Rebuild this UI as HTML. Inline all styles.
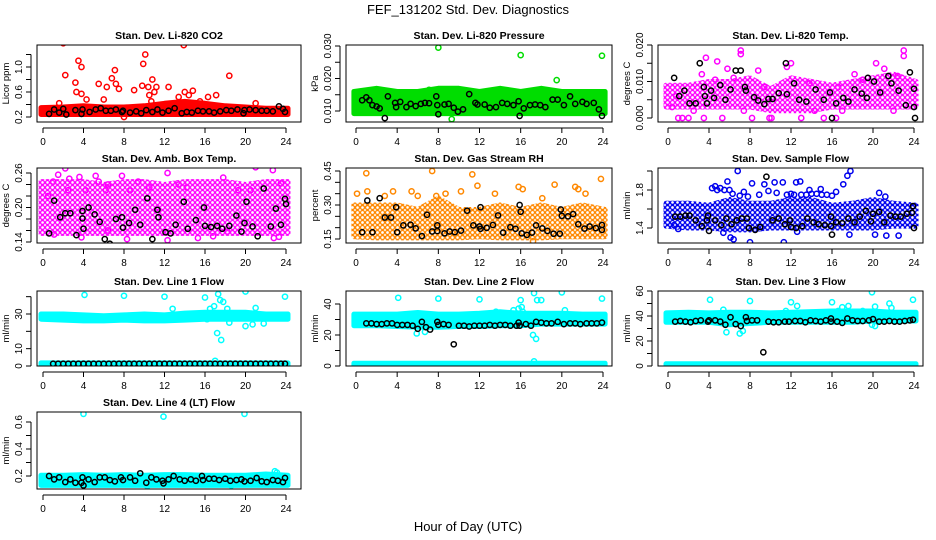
<!DOCTYPE html>
<html><head><meta charset="utf-8"><style>
html,body{margin:0;padding:0;background:#fff}
svg{display:block;font-family:"Liberation Sans",sans-serif}
</style></head><body>
<svg id="chart" width="936" height="540" viewBox="0 0 936 540" xmlns="http://www.w3.org/2000/svg">
<text x="468" y="14" text-anchor="middle" font-size="13">FEF_131202  Std. Dev. Diagnostics</text>
<text x="468" y="531" text-anchor="middle" font-size="13">Hour of Day (UTC)</text>
</svg>
<script>
const bandHours=[-0.2,2,4,6,8,10,12,14,16,18,20,22,24.2];
const xTickLabels=[0,4,8,12,16,20,24];

const p1Lo=[0.24,0.24,0.24,0.24,0.24,0.24,0.24,0.24,0.24,0.24,0.24,0.24,0.24];
const p1Hi=[0.35,0.36,0.38,0.36,0.36,0.38,0.42,0.45,0.42,0.38,0.36,0.34,0.34];
const p1Out=[[2,1.38],[3.5,1.1],[3.8,1.0],[2.2,0.87],[3.2,0.75],[7.1,0.95],[6.8,0.82],[7.2,0.73],[5.5,0.73],[6.3,0.68],[7.5,0.65],[3.3,0.6],[3.8,0.57],[6,0.48],[9,0.63],[9.8,0.7],[9.9,1.05],[10.1,1.2],[10.8,0.8],[10.4,0.68],[11.2,0.68],[12.4,0.68],[13.9,1.35],[14,0.6],[14.8,0.62],[16.3,0.52],[17.1,0.55],[18.4,0.86],[21,0.42],[1.6,0.42],[4.3,0.48],[10.5,0.55],[11,0.6],[13.4,0.52],[14.4,0.55],[15.5,0.45],[8,0.2],[10.7,0.45]];
const p1Black=[[0.6,0.25],[1.1,0.32],[1.6,0.27],[2.0,0.33],[2.3,0.24],[3.2,0.31],[3.8,0.25],[3.9,0.32],[4.6,0.28],[5.2,0.32],[5.7,0.34],[6.2,0.3],[6.7,0.3],[7.2,0.32],[7.8,0.28],[7.9,0.3],[8.6,0.27],[9.2,0.29],[9.7,0.26],[10.2,0.31],[10.8,0.28],[11.3,0.32],[11.8,0.27],[12.4,0.3],[13,0.34],[13.7,0.26],[14.2,0.28],[14.7,0.27],[15.3,0.3],[15.8,0.29],[16.4,0.29],[16.9,0.27],[17.5,0.29],[18.1,0.31],[18.6,0.3],[19.2,0.32],[19.8,0.26],[19.9,0.31],[20.4,0.32],[21,0.31],[21.6,0.3],[22.1,0.3],[22.7,0.29],[23.3,0.37],[23.7,0.33],[23.9,0.28]];

const p2Lo=[0.0092,0.0092,0.0092,0.0092,0.0092,0.0092,0.0092,0.0092,0.0092,0.0092,0.0092,0.0092,0.0092];
const p2Hi=[0.016,0.017,0.016,0.016,0.017,0.017,0.016,0.017,0.016,0.017,0.016,0.016,0.016];
const p2Out=[[0.1,0.0128],[4.1,0.0118],[5.6,0.0118],[6.4,0.0118],[7.1,0.0165],[7.4,0.0118],[8,0.0295],[8.1,0.0122],[11.5,0.013],[13.4,0.0124],[16,0.0272],[18.8,0.0152],[19.2,0.0142],[19.5,0.0195],[22.2,0.0055],[23.9,0.027],[9.3,0.0075],[14.5,0.0118],[22.5,0.0118]];
const p2Black=[[0.6,0.0133],[1.0,0.0142],[1.3,0.0133],[1.6,0.0118],[2.0,0.0114],[2.3,0.0108],[2.8,0.0078],[3.1,0.0145],[3.8,0.0125],[3.9,0.0112],[4.3,0.0128],[4.9,0.0112],[5.3,0.0122],[5.8,0.0115],[6.3,0.0122],[6.7,0.0125],[7.1,0.0124],[7.8,0.0145],[7.9,0.0118],[8.0,0.009],[8.6,0.012],[9.0,0.0122],[9.5,0.011],[9.9,0.0098],[10.4,0.0105],[11.0,0.0152],[11.6,0.0125],[11.8,0.012],[12.5,0.012],[13.0,0.011],[13.6,0.0112],[14.2,0.0125],[14.7,0.0122],[15.3,0.0118],[15.8,0.013],[15.9,0.0085],[16.3,0.0108],[16.9,0.0118],[17.4,0.012],[17.9,0.0118],[18.4,0.0112],[19.1,0.0135],[19.6,0.0135],[20.2,0.0118],[20.8,0.0145],[21.3,0.0122],[22.0,0.0128],[22.4,0.0122],[23.1,0.0125],[23.6,0.0105],[23.9,0.0085]];

const p3Lo=[0.003,0.003,0.003,0.003,0.003,0.002,0.002,0.002,0.003,0.003,0.003,0.003,0.003];
const p3Hi=[0.009,0.009,0.010,0.010,0.011,0.008,0.011,0.010,0.009,0.010,0.011,0.012,0.010];
const p3Out=[[1,0],[1.4,0],[2,0],[3.5,0],[5.3,0],[8.2,0],[9.9,0],[10.1,0],[13,0],[15.2,0],[16.4,0],[3.7,0.0165],[7.1,0.0185],[7.1,0.0175],[4.8,0.0155],[23,0.017],[23,0.0185],[5.8,0.0135],[12,0.015],[3.3,0.012],[6.4,0.011],[8.8,0.013],[11.6,0.014],[20.3,0.015],[21.1,0.0135],[18.2,0.012],[0.4,0.003],[2.5,0.002],[7.4,0.002],[14.3,0.002],[17,0.002],[22,0.002],[0.8,0.006],[4.6,0.0105],[9.4,0.0085],[13.8,0.0095],[16.6,0.0085],[19,0.0105],[22.4,0.0115]];
const p3Black=[[0.6,0.011],[1.1,0.006],[1.6,0.0075],[2.1,0.004],[2.7,0.004],[3.1,0.015],[3.5,0.0085],[3.6,0.006],[3.8,0.004],[4.2,0.0075],[4.5,0.0055],[5.1,0.009],[5.6,0.005],[6.1,0.0078],[6.6,0.013],[7.1,0.013],[7.5,0.0085],[7.6,0.0075],[8.4,0.0057],[8.8,0.0048],[9.4,0.0038],[9.8,0.0052],[10.2,0.0052],[10.8,0.0068],[11.5,0.015],[11.6,0.0065],[12.3,0.0095],[12.8,0.005],[13.5,0.0045],[14.4,0.0078],[15.2,0.005],[15.8,0.007],[16,0],[16.4,0.004],[17.1,0.0055],[17.6,0.0045],[18.2,0.0078],[18.9,0.0067],[19.4,0.0055],[19.5,0.011],[20.1,0.01],[20.7,0.007],[21.5,0.0115],[21.8,0.0095],[22.5,0.0075],[23.2,0.0035],[23.6,0.0125],[24,0.008],[24,0.003],[24.1,0]];

const p4Lo=[0.155,0.155,0.155,0.155,0.155,0.155,0.155,0.155,0.155,0.155,0.155,0.155,0.155];
const p4Hi=[0.245,0.245,0.245,0.24,0.245,0.245,0.24,0.245,0.245,0.245,0.24,0.245,0.245];
const p4Out=[[1,0.245],[1.5,0.257],[2.2,0.268],[2.6,0.25],[3.6,0.253],[5.2,0.255],[5.5,0.245],[6.4,0.24],[7.8,0.255],[9.4,0.245],[12.3,0.26],[13.4,0.24],[17.8,0.252],[21,0.27],[22.7,0.265],[23.5,0.242],[1.1,0.153],[3.8,0.148],[6.4,0.16],[8.3,0.145],[12.3,0.143],[15.3,0.147],[16.8,0.15],[18.2,0.158],[22.8,0.147],[23.3,0.149],[0.5,0.22],[2.5,0.23],[4.2,0.23],[10.5,0.235],[14.2,0.235],[19.3,0.23],[20.5,0.23],[8.6,0.23],[6.2,0.23]];
const p4Black=[[0.6,0.155],[1.1,0.212],[1.7,0.183],[2.2,0.19],[2.7,0.19],[3.3,0.152],[3.9,0.181],[3.9,0.194],[4.0,0.163],[4.5,0.2],[5.1,0.188],[5.6,0.175],[6.1,0.145],[6.6,0.137],[7.2,0.18],[7.8,0.183],[7.9,0.165],[8.5,0.173],[9.1,0.196],[9.6,0.17],[10.3,0.216],[10.8,0.145],[11.3,0.196],[11.4,0.183],[12.1,0.157],[12.6,0.155],[13.1,0.17],[13.9,0.21],[14.3,0.163],[15.1,0.178],[15.9,0.2],[16,0.168],[16.6,0.166],[17.2,0.168],[17.7,0.163],[18.4,0.168],[19.1,0.186],[19.6,0.158],[19.9,0.173],[20.1,0.21],[20.7,0.167],[21.2,0.15],[21.8,0.233],[22.5,0.167],[23.0,0.198],[23.5,0.17],[23.9,0.215],[24.0,0.206]];

const p5Lo=[0.16,0.155,0.155,0.155,0.155,0.155,0.16,0.155,0.155,0.155,0.16,0.16,0.16];
const p5Hi=[0.30,0.30,0.30,0.28,0.33,0.28,0.28,0.30,0.28,0.30,0.28,0.30,0.28];
const p5Out=[[1,0.44],[7.4,0.45],[11.3,0.435],[0.1,0.35],[1.1,0.36],[3.6,0.36],[5.4,0.36],[8.7,0.35],[10.2,0.36],[11.8,0.385],[13.5,0.35],[15.8,0.38],[16.2,0.37],[19.3,0.39],[21.3,0.38],[21.6,0.37],[23.8,0.415],[22.3,0.35],[2.8,0.34],[7.8,0.34],[18.1,0.33],[17.2,0.14],[6,0.34]];
const p5Black=[[0.6,0.18],[1.1,0.32],[1.6,0.18],[2.3,0.33],[2.8,0.245],[3.4,0.245],[3.9,0.29],[4.0,0.18],[4.6,0.21],[5.3,0.213],[5.8,0.197],[6.4,0.163],[6.9,0.257],[7.4,0.183],[7.9,0.185],[7.9,0.21],[8.6,0.175],[9.1,0.183],[9.6,0.18],[10.2,0.187],[10.8,0.275],[11.4,0.21],[12.0,0.205],[12.1,0.195],[12.1,0.29],[12.7,0.199],[13.3,0.212],[13.8,0.254],[14.3,0.178],[15.0,0.202],[15.5,0.195],[15.9,0.3],[16,0.27],[16.1,0.175],[16.6,0.168],[17.1,0.178],[17.5,0.21],[18.1,0.197],[18.6,0.186],[19.2,0.173],[19.8,0.173],[19.9,0.28],[20,0.252],[20.6,0.25],[21.1,0.26],[21.6,0.215],[22.2,0.196],[22.7,0.205],[23.3,0.198],[23.9,0.212],[23.9,0.19]];

const p6Lo=[1.42,1.40,1.40,1.38,1.38,1.40,1.40,1.40,1.40,1.40,1.40,1.42,1.42];
const p6Hi=[1.66,1.66,1.64,1.70,1.66,1.66,1.70,1.70,1.64,1.66,1.70,1.66,1.64];
const p6Out=[[4.6,1.84],[5.1,1.82],[5.8,1.89],[6.3,1.76],[6.8,2.0],[7.4,1.78],[8.2,1.87],[8.9,1.75],[9.4,1.86],[10.4,1.88],[11.2,1.88],[12.5,1.88],[12.9,1.89],[13.8,1.8],[14.9,1.81],[16.4,1.78],[17.1,1.86],[17.5,1.95],[17.8,2.0],[20.6,1.77],[21.2,1.73],[6.1,1.3],[6.4,1.28],[8.0,1.25],[11.3,1.25],[12.6,1.36],[17.7,1.33],[20.2,1.33],[21.3,1.32],[22.5,1.32],[1.0,1.39],[0.6,1.43],[5.4,1.35],[4.8,1.8],[5.5,1.8],[7,1.74],[7.8,1.73],[12,1.76],[13,1.75],[14,1.76],[15,1.75],[16,1.74],[11.6,1.75],[9.8,1.79],[10.6,1.77],[4.3,1.82],[6,1.8],[12.3,1.75],[13.5,1.75],[14.5,1.76],[15.5,1.75]];
const p6Black=[[0.7,1.52],[1.2,1.52],[1.7,1.53],[2.1,1.53],[2.7,1.48],[3.3,1.42],[3.8,1.48],[3.9,1.53],[4.0,1.37],[4.6,1.48],[5.2,1.43],[5.7,1.5],[6.2,1.44],[6.7,1.48],[7.2,1.5],[7.7,1.5],[7.9,1.4],[8.5,1.38],[9.0,1.41],[9.6,1.94],[10.2,1.48],[10.8,1.5],[11.4,1.44],[11.9,1.48],[12,1.41],[12.5,1.4],[13.1,1.42],[13.6,1.5],[14.2,1.46],[14.7,1.44],[15.3,1.43],[15.9,1.52],[15.9,1.42],[16,1.33],[16.4,1.46],[17.0,1.45],[17.6,1.5],[18.2,1.46],[18.7,1.52],[19.3,1.58],[19.8,1.47],[20,1.55],[20.6,1.57],[21.1,1.46],[21.7,1.53],[22.2,1.52],[22.7,1.52],[23.3,1.55],[23.8,1.56],[23.9,1.63],[24,1.4]];

const p7Lo=[27,26.5,26,26,26.5,26,26,26.5,27,27,27,27,27];
const p7Hi=[30,30,29.5,29,29.5,30,29.5,30.5,31,31,31,30,30];
const p7Out=[[4.1,41],[8.0,40.5],[12.0,40],[12.8,33],[16.0,39.5],[16.5,33],[16.9,34.5],[17.3,41.5],[17.5,38],[17.8,37],[17.2,19],[17.6,15],[20.0,43],[21.0,33.5],[20,23],[20.7,24],[18.2,33],[21.8,24.5],[23.9,40],[17,3],[16.2,27],[18.4,25]];
const p7BlackX=[1,1.5,2,2.5,3,3.5,4,4.5,5,5.5,6,6.5,7,7.5,8,8.5,9,9.5,10,10.5,11,11.5,12,12.5,13,13.5,14,14.5,15,15.5,16,16.5,17,17.5,18,18.5,19,19.5,20,20.5,21,21.5,22,22.5,23,23.5,23.9];
const p7BlackY=[1.3,1.3,1.3,1.3,1.3,1.3,1.3,1.3,1.3,1.3,1.3,1.3,1.3,1.3,1.3,1.3,1.3,1.3,1.3,1.3,1.3,1.3,1.3,1.3,1.3,1.3,1.3,1.3,1.3,1.3,1.3,1.3,1.3,1.3,1.3,1.3,1.3,1.3,1.3,1.3,1.3,1.3,1.3,1.3,1.3,1.3,1.3];

const p8Lo=[26,26,25.5,25,25,25.5,25.5,26,26,27,27,27,27];
const p8Hi=[33.5,33.5,33.5,34.5,33.5,33.5,34,35,34,34,34,33.5,33.5];
const p8Out=[[4.1,44],[8.0,43.5],[12,43],[16,42.5],[17.3,47],[17.6,42.5],[18,42.5],[20,47.5],[20.3,36],[23.9,43.5],[15.3,36],[15.8,37],[16.1,38],[16.2,35],[17.2,20],[17.5,17.5],[5.9,21],[6.7,22],[17.3,3],[13.6,35]];
const p8Black=[[1,27.5],[1.5,27.5],[2,27],[2.5,27],[3,27.5],[3.5,27.5],[4,26.5],[4.5,26.5],[5,26.5],[5.5,26],[6,24],[6.4,28.5],[6.8,25],[7.2,23.5],[7.9,28.5],[8,26.5],[8.5,27],[9,26.5],[9.5,14],[10,26],[10.5,26],[11,25.5],[11.5,26],[12,26],[12.5,26],[13,26.5],[13.5,26],[14,26.5],[14.5,26.5],[15,26],[15.6,26],[15.8,28],[15.9,26],[16.5,27],[17,26],[17.5,28.5],[18,28],[18.5,27.5],[19,27.5],[19.6,28.5],[20.2,27],[20.8,27.5],[21.3,27.5],[21.8,27],[22.4,27.5],[22.9,27.5],[23.4,27.5],[23.9,28]];

const p9Lo=[35,35,35,33,34,35,35,35,35,35,36,36,36];
const p9Hi=[42.5,43,42.5,43,43,42.5,43,43.5,44,44,44,43,43];
const p9Out=[[4.1,53],[8.0,52],[12.0,51],[12.6,48],[16.0,51],[17.6,48],[19.9,59],[20.2,47.5],[21.6,50],[21.8,46.5],[23.9,53],[17,47],[16.6,44],[19,44],[5.4,45],[5.7,27],[7.0,26],[7.3,28],[11.5,44],[19.9,33],[20.2,32]];
const p9Black=[[0.7,35.5],[1.2,36],[1.7,35.5],[2.2,35],[2.7,36],[3.2,36.5],[3.9,35.5],[4,36.5],[4.6,36.5],[5.1,35.5],[5.6,33],[6.1,39],[6.6,33.5],[7.1,32],[7.6,39],[7.7,36],[8.2,36.5],[8.7,36.5],[9.3,11],[9.8,35.5],[10.3,35],[10.8,35],[11.4,35.5],[11.8,35.5],[12.4,36],[12.9,36],[13.4,35],[13.9,36.5],[14.4,36],[14.9,35.5],[15.4,36.5],[15.9,38],[15.9,35.5],[16.5,35.5],[17,34.5],[17.5,38],[18,36.5],[18.5,36],[19,36],[19.6,36.5],[20,37.5],[20.6,35.5],[21.1,35.5],[21.6,36],[22.1,35.5],[22.6,35.5],[23.1,36],[23.6,36.5],[23.9,37]];

const lowLo=[0.3,0.3,0.3,0.3,0.3,0.3,0.3,0.3,0.3,0.3,0.3,0.3,0.3];
const lowHi=[1.8,1.8,1.8,1.8,1.8,1.8,1.8,1.8,1.8,1.8,1.8,1.8,1.8];

const p10Lo=[0.13,0.13,0.13,0.13,0.13,0.13,0.13,0.13,0.13,0.13,0.13,0.13,0.13];
const p10Hi=[0.205,0.205,0.21,0.205,0.21,0.205,0.21,0.21,0.205,0.205,0.205,0.215,0.205];
const p10Out=[[4.0,0.66],[11.9,0.64],[19.9,0.66],[22.9,0.235],[18.6,0.13],[10.3,0.125],[23.1,0.225]];
const p10Black=[[0.6,0.2],[1.1,0.175],[1.6,0.19],[2.2,0.155],[2.7,0.175],[3.2,0.15],[3.8,0.15],[3.9,0.19],[4,0.13],[4.5,0.175],[5.1,0.155],[5.6,0.19],[6.1,0.19],[6.6,0.17],[7.1,0.16],[7.7,0.19],[7.9,0.17],[8.6,0.19],[9.1,0.165],[9.6,0.22],[10.2,0.15],[10.7,0.19],[11.2,0.175],[11.8,0.165],[11.9,0.145],[12.4,0.175],[12.9,0.2],[13.5,0.175],[14.0,0.165],[14.6,0.175],[15.1,0.165],[15.7,0.2],[15.8,0.17],[16.4,0.18],[16.9,0.18],[17.4,0.17],[18,0.18],[18.5,0.165],[19.1,0.17],[19.6,0.175],[19.9,0.16],[20.5,0.165],[21.1,0.185],[21.6,0.16],[22.1,0.155],[22.7,0.17],[23.2,0.165],[23.7,0.155],[23.9,0.185]];

const NS='http://www.w3.org/2000/svg';
const svg=document.getElementById('chart');
const cols=[{bl:37,br:301,x0:43,x1:286},{bl:346,br:612,x0:356,x1:603},{bl:658,br:923,x0:668,x1:914}];
const rows=[{t:45,b:122},{t:168,b:243},{t:291,b:366},{t:412,b:489}];
function mk(tag,attrs,parent){const e=document.createElementNS(NS,tag);for(const k in attrs)e.setAttribute(k,attrs[k]);(parent||svg).appendChild(e);return e;}
const defs=mk('defs',{});
function ringPattern(id,color){
  const p=mk('pattern',{id:id,width:5,height:5,patternUnits:'userSpaceOnUse'},defs);
  mk('circle',{cx:2.5,cy:2.5,r:2,fill:'none',stroke:color,'stroke-width':1.3},p);
  return 'url(#'+id+')';
}

function panel(o){
  const c=cols[o.col],r=rows[o.row];
  const g=mk('g',{});
  
  
  const xs=h=>c.x0+(h/24)*(c.x1-c.x0);
  const ys=v=>o.p1+(v-o.v1)*(o.p2-o.p1)/(o.v2-o.v1);
  const clip='clip'+o.row+o.col;
  const cp=mk('clipPath',{id:clip},g);mk('rect',{x:c.bl,y:r.t,width:c.br-c.bl,height:r.b-r.t},cp);
  const pg=mk('g',{'clip-path':'url(#'+clip+')'},g);
  const fill=o.pattern?ringPattern('pat'+o.row+o.col,o.color):o.color;
  (o.bands||[]).forEach(bd=>{
    let d='';
    bandHours.forEach((h,i)=>{d+=(i?'L':'M')+xs(h).toFixed(1)+' '+ys(bd.hi[i]).toFixed(1);});
    for(let i=bandHours.length-1;i>=0;i--)d+='L'+xs(bandHours[i]).toFixed(1)+' '+ys(bd.lo[i]).toFixed(1);
    const p=mk('path',{d:d+'Z',fill:fill,stroke:fill,'stroke-width':5,'stroke-linejoin':'round'},pg);
    
    
  });
  (o.out||[]).forEach(pt=>{
    const e=mk('circle',{cx:xs(pt[0]),cy:ys(pt[1]),r:2.6,fill:'none',stroke:o.color,'stroke-width':1.5},pg);
    
    
  });
  (o.black||[]).forEach(pt=>{
    const e=mk('circle',{cx:xs(pt[0]),cy:ys(pt[1]),r:2.6,fill:'none',stroke:'#000','stroke-width':1.5},pg);
    
    
  });
  const box=mk('rect',{x:c.bl,y:r.t,width:c.br-c.bl,height:r.b-r.t,fill:'none',stroke:'#000','stroke-width':1},g);
  
  
  const xa=mk('g',{},g);
  
  
  mk('line',{x1:xs(0),x2:xs(24),y1:r.b+6,y2:r.b+6,stroke:'#000'},xa);
  xTickLabels.forEach(h=>{
    mk('line',{x1:xs(h),x2:xs(h),y1:r.b+6,y2:r.b+11,stroke:'#000'},xa);
    const t=mk('text',{x:xs(h),y:r.b+23,'text-anchor':'middle','font-size':10},xa);t.textContent=h;
  });
  const ya=mk('g',{},g);
  
  
  const ax=c.bl-6;
  mk('line',{x1:ax,x2:ax,y1:ys(o.ticks[0]),y2:ys(o.ticks[o.ticks.length-1]),stroke:'#000'},ya);
  o.ticks.forEach(v=>mk('line',{x1:ax,x2:ax-5,y1:ys(v),y2:ys(v),stroke:'#000'},ya));
  o.labels.forEach((v,i)=>{
    const yy=ys(v);
    const t=mk('text',{x:ax-9,y:yy,'text-anchor':'middle','font-size':10,transform:'rotate(-90 '+(ax-9)+' '+yy+')'},ya);
    t.textContent=o.labelText[i];
  });
  const yt=mk('text',{x:c.bl-28,y:(r.t+r.b)/2,'text-anchor':'middle','font-size':9.5,transform:'rotate(-90 '+(c.bl-28)+' '+((r.t+r.b)/2)+')'},g);
  yt.textContent=o.ylab;
  
  
  const tt=mk('text',{x:(c.bl+c.br)/2,y:r.t-6,'text-anchor':'middle','font-size':10.5,'font-weight':'bold'},g);
  tt.textContent=o.title;
  
  
}
function pairs(xa,ya){return xa.map((x,i)=>[x,ya[i]]);}

panel({name:'co2-panel',col:0,row:0,title:'Stan. Dev. Li-820 CO2',ylab:'Licor ppm',color:'#ff0000',v1:0.2,p1:117,v2:1.0,p2:67,ticks:[0.2,0.4,0.6,0.8,1.0,1.2],labels:[0.2,0.6,1.0],labelText:['0.2','0.6','1.0'],bands:[{lo:p1Lo,hi:p1Hi}],out:p1Out,black:p1Black});
panel({name:'pressure-panel',col:1,row:0,title:'Stan. Dev. Li-820 Pressure',ylab:'kPa',color:'#00dd00',v1:0.010,p1:111,v2:0.030,p2:46,ticks:[0.010,0.015,0.020,0.025,0.030],labels:[0.010,0.020,0.030],labelText:['0.010','0.020','0.030'],bands:[{lo:p2Lo,hi:p2Hi}],out:p2Out,black:p2Black});
panel({name:'temp-panel',col:2,row:0,title:'Stan. Dev. Li-820 Temp.',ylab:'degrees C',color:'#ff00ff',pattern:true,v1:0,p1:118,v2:0.020,p2:45,ticks:[0,0.005,0.010,0.015,0.020],labels:[0,0.010,0.020],labelText:['0.000','0.010','0.020'],bands:[{lo:p3Lo,hi:p3Hi}],out:p3Out,black:p3Black});
panel({name:'box-temp-panel',col:0,row:1,title:'Stan. Dev. Amb. Box Temp.',ylab:'degrees C',color:'#ff00ff',pattern:true,v1:0.14,p1:242,v2:0.26,p2:173,ticks:[0.14,0.16,0.18,0.20,0.22,0.24,0.26],labels:[0.14,0.20,0.26],labelText:['0.14','0.20','0.26'],bands:[{lo:p4Lo,hi:p4Hi}],out:p4Out,black:p4Black});
panel({name:'rh-panel',col:1,row:1,title:'Stan. Dev. Gas Stream RH',ylab:'percent',color:'#ff8800',pattern:true,v1:0.15,p1:239,v2:0.45,p2:171,ticks:[0.15,0.20,0.25,0.30,0.35,0.40,0.45],labels:[0.15,0.30,0.45],labelText:['0.15','0.30','0.45'],bands:[{lo:p5Lo,hi:p5Hi}],out:p5Out,black:p5Black});
panel({name:'sample-flow-panel',col:2,row:1,title:'Stan. Dev. Sample Flow',ylab:'ml/min',color:'#0000ee',pattern:true,v1:1.4,p1:228,v2:1.8,p2:190,ticks:[1.4,1.6,1.8,2.0],labels:[1.4,1.8],labelText:['1.4','1.8'],bands:[{lo:p6Lo,hi:p6Hi}],out:p6Out,black:p6Black});
panel({name:'line1-flow-panel',col:0,row:2,title:'Stan. Dev. Line 1 Flow',ylab:'ml/min',color:'#00ffff',v1:0,p1:366,v2:30,p2:314,ticks:[0,10,20,30,40],labels:[0,10,30],labelText:['0','10','30'],bands:[{lo:p7Lo,hi:p7Hi},{lo:lowLo,hi:lowHi}],out:p7Out,black:pairs(p7BlackX,p7BlackY)});
panel({name:'line2-flow-panel',col:1,row:2,title:'Stan. Dev. Line 2 Flow',ylab:'ml/min',color:'#00ffff',v1:0,p1:366,v2:40,p2:304,ticks:[0,10,20,30,40],labels:[0,20,40],labelText:['0','20','40'],bands:[{lo:p8Lo,hi:p8Hi},{lo:lowLo,hi:lowHi}],out:p8Out,black:p8Black});
panel({name:'line3-flow-panel',col:2,row:2,title:'Stan. Dev. Line 3 Flow',ylab:'ml/min',color:'#00ffff',v1:0,p1:366,v2:60,p2:291,ticks:[0,10,20,30,40,50,60],labels:[0,20,40,60],labelText:['0','20','40','60'],bands:[{lo:p9Lo,hi:p9Hi},{lo:lowLo,hi:lowHi}],out:p9Out,black:p9Black});
panel({name:'line4-flow-panel',col:0,row:3,title:'Stan. Dev. Line 4 (LT) Flow',ylab:'ml/min',color:'#00ffff',v1:0.2,p1:476,v2:0.6,p2:422,ticks:[0.2,0.3,0.4,0.5,0.6],labels:[0.2,0.4,0.6],labelText:['0.2','0.4','0.6'],bands:[{lo:p10Lo,hi:p10Hi}],out:p10Out,black:p10Black});
</script>
</body></html>
